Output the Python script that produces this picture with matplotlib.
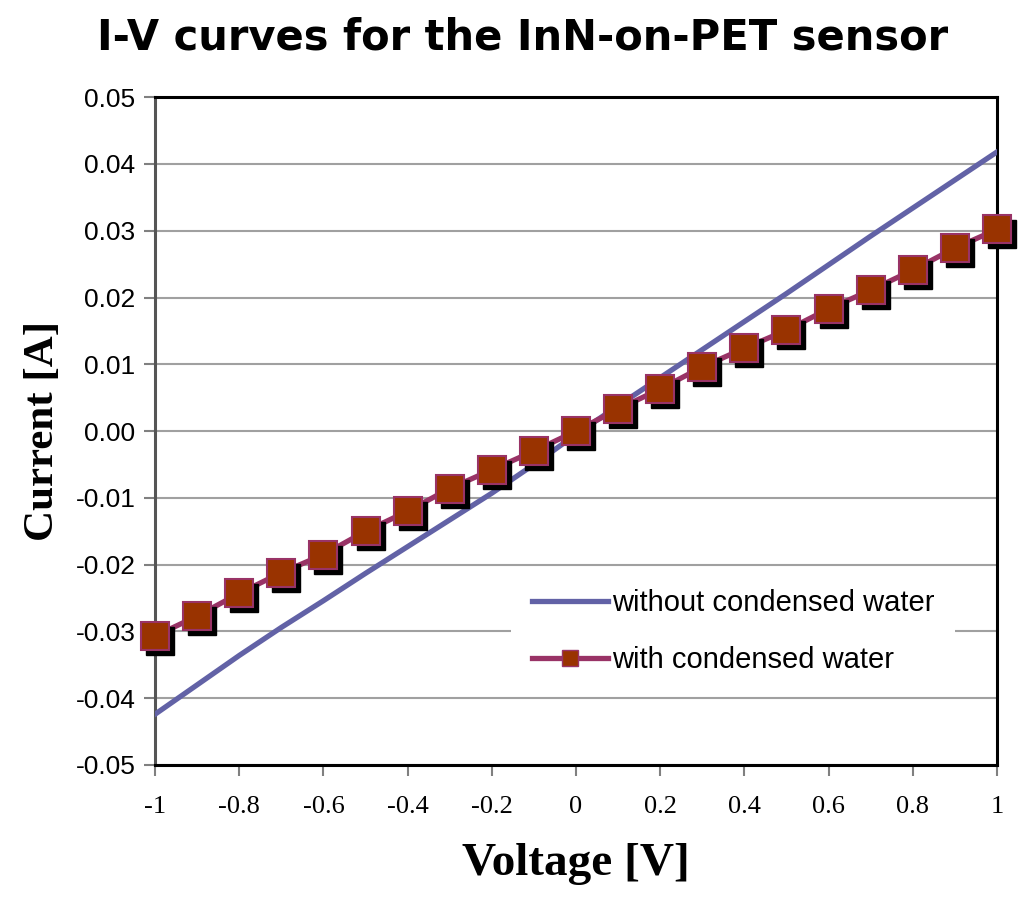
import matplotlib.pyplot as plt
import matplotlib.transforms as mtransforms

# === Data ===
voltage = [-1.0, -0.9, -0.8, -0.7, -0.6, -0.5, -0.4, -0.3, -0.2, -0.1, 0.0,
           0.1, 0.2, 0.3, 0.4, 0.5, 0.6, 0.7, 0.8, 0.9, 1.0]
current_dry = [-0.0424, -0.0380, -0.0336, -0.0294, -0.0254, -0.0213, -0.0173,
               -0.0133, -0.0093, -0.0050, -0.0005, 0.0038, 0.0080, 0.0122,
               0.0164, 0.0206, 0.0249, 0.0292, 0.0334, 0.0376, 0.0418]
current_wet = [-0.0307, -0.0277, -0.0243, -0.0212, -0.0185, -0.0150, -0.0120,
               -0.0086, -0.0058, -0.0030, 0.0000, 0.0033, 0.0063, 0.0096,
               0.0124, 0.0151, 0.0183, 0.0211, 0.0241, 0.0274, 0.0302]
x_ticks = [-1, -0.8, -0.6, -0.4, -0.2, 0, 0.2, 0.4, 0.6, 0.8, 1]
x_labels = ["-1", "-0.8", "-0.6", "-0.4", "-0.2", "0", "0.2", "0.4", "0.6", "0.8", "1"]
y_ticks = [0.05, 0.04, 0.03, 0.02, 0.01, 0.0, -0.01, -0.02, -0.03, -0.04, -0.05]
y_labels = ["0.05", "0.04", "0.03", "0.02", "0.01", "0.00",
            "-0.01", "-0.02", "-0.03", "-0.04", "-0.05"]

# === Figure ===
fig = plt.figure(figsize=(10.24, 9), dpi=100)
ax = fig.add_axes([0.1514, 0.150, 0.8222, 0.742])

ax.plot(voltage, current_dry, color="#6262A6", lw=3.8, zorder=3,
        label="without condensed water")
ax.plot(voltage, current_wet, color="#993366", lw=3.8, zorder=3.2)

# drop shadow under the square markers
shadow = mtransforms.offset_copy(ax.transData, fig=fig, x=5, y=-5, units="dots")
ax.plot(voltage, current_wet, ls="none", marker="s", ms=19.5, color="black",
        transform=shadow, zorder=3.4, clip_on=False)
ax.plot(voltage, current_wet, ls="none", marker="s", ms=19.5,
        markerfacecolor="#993300", markeredgecolor="#993366", mew=1.5,
        zorder=3.6, clip_on=False)
# legend proxy for the marker series
ax.plot([], [], color="#993366", lw=3.8, marker="s", ms=12,
        markerfacecolor="#993300", markeredgecolor="#993366",
        label="with condensed water")

ax.set_xlim(-1, 1)
ax.set_ylim(-0.05, 0.05)
ax.set_xticks(x_ticks)
ax.set_xticklabels(x_labels, family="Liberation Serif", fontsize=19)
ax.set_yticks(y_ticks)
ax.set_yticklabels(y_labels, family="Liberation Sans", fontsize=19)
ax.tick_params(axis="both", direction="out", length=8, width=1.5,
               color="#808080", pad=6)
ax.tick_params(axis="x", pad=14)

ax.yaxis.grid(True, color="#A0A0A0", lw=1.5)
ax.set_axisbelow(True)
for s in ax.spines.values():
    s.set_linewidth(2.2)
    s.set_color("black")
ax.spines["left"].set_color("#555555")

ax.set_xlabel("Voltage [V]", family="Liberation Serif", fontweight="bold",
              fontsize=34, labelpad=18)
ax.set_ylabel("Current [A]", family="Liberation Serif", fontweight="bold",
              fontsize=31, labelpad=10)
fig.suptitle("I-V curves for the InN-on-PET sensor", family="DejaVu Sans",
             fontweight="bold", fontsize=30, x=0.51, y=0.982)

leg = ax.legend(loc="center left", bbox_to_anchor=(0.406, 0.2), frameon=True,
                facecolor="white", edgecolor="none", framealpha=1,
                handlelength=2.6, handletextpad=0.15,
                labelspacing=1.0, borderpad=0.7,
                prop={"family": "Liberation Sans", "size": 21})
leg.set_zorder(5)

plt.savefig("out.png", dpi=100, facecolor="white")
